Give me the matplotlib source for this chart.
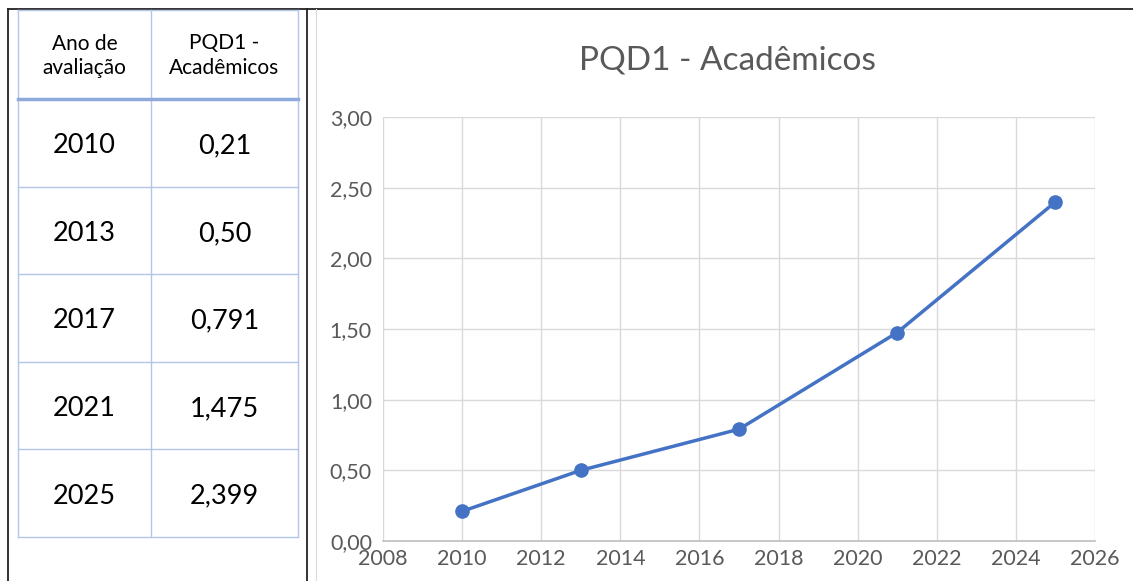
import matplotlib.pyplot as plt
import matplotlib.ticker as mticker

plt.rcParams['font.family'] = ['Lato', 'DejaVu Sans']

years = [2010, 2013, 2017, 2021, 2025]
values = [0.21, 0.50, 0.791, 1.475, 2.399]
value_labels = ["0,21", "0,50", "0,791", "1,475", "2,399"]
col_headers = ["Ano de\navaliação", "PQD1 -\nAcadêmicos"]
title = "PQD1 - Acadêmicos"

W, H = 1133, 581
fig = plt.figure(figsize=(W / 100, H / 100), dpi=100)

# overlay axes in pixel coordinates (y downward) for table and frame
ov = fig.add_axes([0, 0, 1, 1])
ov.set_xlim(0, W)
ov.set_ylim(H, 0)
ov.axis("off")

# outer frame lines
ov.plot([8, W], [9, 9], color="#222222", lw=1.3)
ov.plot([8, 8], [9, H], color="#222222", lw=1.3)
ov.plot([307, 307], [9, H], color="#222222", lw=1.3)
ov.plot([316, 316], [9, H], color="#D9D9D9", lw=0.8)

# table
cell_col = "#B4C6E7"
x0, x1, x2 = 18, 151, 298
y_head_top, y_head_bot, row_h = 10, 99, 87.6
y_end = y_head_bot + row_h * len(years)
for x in (x0, x1, x2):
    ov.plot([x, x], [y_head_top, y_end], color=cell_col, lw=1.0)
ov.plot([x0, x2], [y_head_top, y_head_top], color=cell_col, lw=1.0)
ov.plot([x0, x2], [y_head_bot, y_head_bot], color="#8EA9DB", lw=2.5)
for i in range(1, len(years) + 1):
    y = y_head_bot + row_h * i
    ov.plot([x0, x2], [y, y], color=cell_col, lw=1.0)

ov.text((x0 + x1) / 2, (y_head_top + y_head_bot) / 2 + 1, col_headers[0],
        ha="center", va="center", fontsize=15, linespacing=1.25, color="black")
ov.text((x1 + x2) / 2, (y_head_top + y_head_bot) / 2 + 1, col_headers[1],
        ha="center", va="center", fontsize=15, linespacing=1.25, color="black")
for i, (yr, lab) in enumerate(zip(years, value_labels)):
    yc = y_head_bot + row_h * (i + 0.5) + 3
    ov.text((x0 + x1) / 2, yc, str(yr), ha="center", va="center", fontsize=19.5, color="black")
    ov.text((x1 + x2) / 2, yc, lab, ha="center", va="center", fontsize=19.5, color="black")

# chart
ax = fig.add_axes([383 / W, 40 / H, (1095 - 383) / W, (541 - 117) / H])
ax.plot(years, values, color="#4472C4", lw=2.5, marker="o", markersize=9.5, zorder=3)
ax.set_xlim(2008, 2026)
ax.set_ylim(0, 3)
ax.xaxis.set_major_locator(mticker.MultipleLocator(2))
ax.yaxis.set_major_locator(mticker.MultipleLocator(0.5))
ax.yaxis.set_major_formatter(mticker.FuncFormatter(lambda v, _: f"{v:.2f}".replace(".", ",")))
ax.grid(True, color="#D9D9D9", lw=1.0)
ax.set_axisbelow(True)
for s in ("top", "right"):
    ax.spines[s].set_visible(False)
ax.spines["left"].set_visible(False)
ax.spines["bottom"].set_color("#BFBFBF")
ax.spines["bottom"].set_linewidth(1.2)
ax.tick_params(length=0, labelsize=15.5, labelcolor="#595959")
ax.tick_params(axis="x", pad=6)
ax.tick_params(axis="y", pad=8)

fig.text(727 / W, 1 - 60 / H, title, ha="center", va="center", fontsize=24, color="#595959")

fig.savefig("out.png", dpi=100)
